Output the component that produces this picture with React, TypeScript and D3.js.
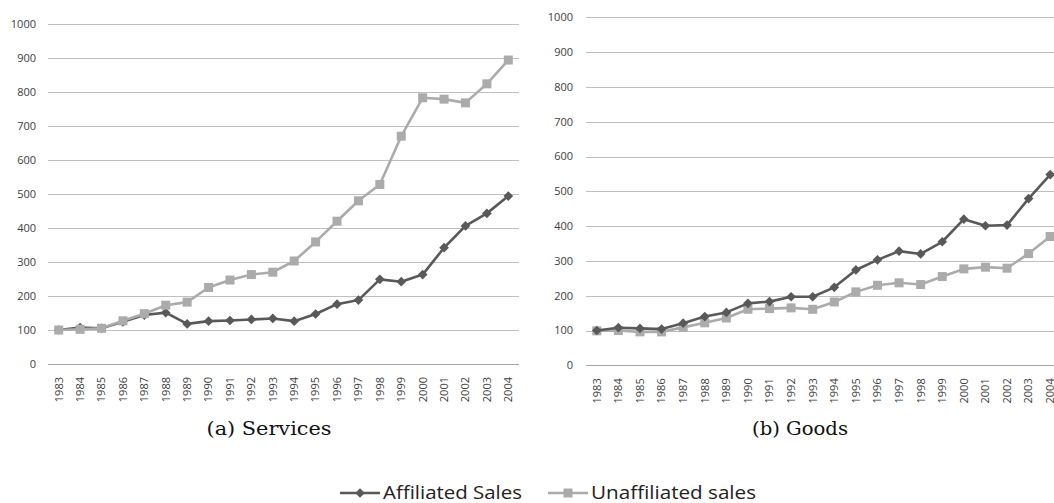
import React, { useRef, useEffect } from 'react';
import * as d3 from 'd3';

const years = [
  '1983', '1984', '1985', '1986', '1987', '1988', '1989', '1990', '1991', '1992', '1993',
  '1994', '1995', '1996', '1997', '1998', '1999', '2000', '2001', '2002', '2003', '2004',
];

const servicesAffiliated = [
  100, 107, 105, 124, 144, 151, 118, 126, 128, 131, 134,
  126, 147, 176, 188, 249, 242, 263, 342, 406, 443, 494,
];
const servicesUnaffiliated = [
  100, 102, 105, 127, 148, 173, 182, 225, 247, 263, 270,
  303, 359, 420, 480, 528, 670, 783, 779, 768, 824, 894,
];

const goodsAffiliated = [
  100, 108, 106, 104, 121, 140, 152, 178, 183, 197, 197,
  224, 274, 303, 328, 320, 355, 420, 401, 403, 479, 548,
];
const goodsUnaffiliated = [
  99, 100, 96, 96, 109, 122, 136, 161, 163, 165, 161,
  182, 211, 230, 237, 232, 255, 277, 282, 279, 321, 370,
];

const yTicks = [0, 100, 200, 300, 400, 500, 600, 700, 800, 900, 1000];

const captions = ['(a) Services', '(b) Goods'];
const seriesNames = ['Affiliated Sales', 'Unaffiliated sales'];

const DARK = '#595959';
const LIGHT = '#ababab';
const GRID = '#c0c0c0';
const TEXT = '#404040';
const SANS = '"Open Sans", "Noto Sans", sans-serif';

const W = 1054;
const H = 503;

const panels = [
  { x0: 48, x1: 519, yTop: 24, yBottom: 364, label: 36, caption: 269, capW: 125, aff: servicesAffiliated, unaff: servicesUnaffiliated },
  { x0: 586, x1: 1061, yTop: 17.3, yBottom: 365.3, label: 573, caption: 800, capW: 96, aff: goodsAffiliated, unaff: goodsUnaffiliated },
];

const App: React.FC = () => {
  const svgRef = useRef<SVGSVGElement | null>(null);

  useEffect(() => {
    if (!svgRef.current) return;
    const svg = d3.select(svgRef.current);
    svg.selectAll('*').remove();

    const diamond = d3.symbol().type(d3.symbolDiamond2).size(60);

    panels.forEach((p, i) => {
      const g = svg.append('g');

      const x = d3.scaleBand<string>().domain(years).range([p.x0, p.x1]);
      const cx = (d: string) => x(d)! + x.bandwidth() / 2;
      const y = d3.scaleLinear().domain([0, 1000]).range([p.yBottom, p.yTop]);

      // gridlines
      g.selectAll('.grid')
        .data(yTicks)
        .join('line')
        .attr('x1', p.x0)
        .attr('x2', p.x1)
        .attr('y1', d => Math.round(y(d)) + 0.5)
        .attr('y2', d => Math.round(y(d)) + 0.5)
        .attr('stroke', d => (d === 0 ? '#a6a6a6' : GRID))
        .attr('stroke-width', 1);

      // y labels
      g.selectAll('.ylab')
        .data(yTicks)
        .join('text')
        .attr('x', p.label)
        .attr('y', d => y(d))
        .attr('dy', '0.35em')
        .attr('text-anchor', 'end')
        .style('font-family', SANS)
        .style('font-size', '11px')
        .style('fill', TEXT)
        .text(d => d);

      // x labels, rotated
      g.selectAll('.xlab')
        .data(years)
        .join('text')
        .attr('transform', d => `translate(${cx(d)},${p.yBottom + 13}) rotate(-90)`)
        .attr('dy', '0.35em')
        .attr('text-anchor', 'end')
        .style('font-family', SANS)
        .style('font-size', '11px')
        .style('fill', TEXT)
        .text(d => d);

      const line = d3.line<number>()
        .x((_, j) => cx(years[j]))
        .y(d => y(d));

      // services draws light over dark, goods the other way round
      const order = i === 0 ? ['aff', 'unaff'] : ['unaff', 'aff'];
      order.forEach(key => {
        const vals = key === 'aff' ? p.aff : p.unaff;
        const color = key === 'aff' ? DARK : LIGHT;
        g.append('path')
          .datum(vals)
          .attr('d', line)
          .attr('fill', 'none')
          .attr('stroke', color)
          .attr('stroke-width', 2.6)
          .attr('stroke-linejoin', 'round');

        if (key === 'aff') {
          g.selectAll(`.m-aff-${i}`)
            .data(vals)
            .join('path')
            .attr('transform', (d, j) => `translate(${cx(years[j])},${y(d)})`)
            .attr('d', diamond)
            .attr('fill', DARK);
        } else {
          g.selectAll(`.m-unaff-${i}`)
            .data(vals)
            .join('rect')
            .attr('x', (_, j) => cx(years[j]) - 4.5)
            .attr('y', d => y(d) - 4.5)
            .attr('width', 9)
            .attr('height', 9)
            .attr('fill', LIGHT);
        }
      });

      // caption
      svg.append('text')
        .attr('x', p.caption - p.capW / 2)
        .attr('y', 435)
        .attr('textLength', p.capW)
        .attr('lengthAdjust', 'spacingAndGlyphs')
        .style('font-family', '"DejaVu Serif", serif')
        .style('font-size', '18px')
        .style('fill', '#111')
        .text(captions[i]);
    });

    // legend
    const legend = svg.append('g');
    const items = [
      { name: seriesNames[0], color: DARK, x: 340, marker: 'diamond', w: 139 },
      { name: seriesNames[1], color: LIGHT, x: 548, marker: 'square', w: 165 },
    ];
    items.forEach(it => {
      const ly = 493;
      legend.append('line')
        .attr('x1', it.x).attr('x2', it.x + 40)
        .attr('y1', ly).attr('y2', ly)
        .attr('stroke', it.color).attr('stroke-width', 2.6);
      if (it.marker === 'diamond') {
        legend.append('path')
          .attr('transform', `translate(${it.x + 20},${ly})`)
          .attr('d', diamond)
          .attr('fill', it.color);
      } else {
        legend.append('rect')
          .attr('x', it.x + 15.5).attr('y', ly - 4.5)
          .attr('width', 9).attr('height', 9)
          .attr('fill', it.color);
      }
      legend.append('text')
        .attr('x', it.x + 43)
        .attr('y', ly)
        .attr('dy', '0.35em')
        .attr('textLength', it.w)
        .attr('lengthAdjust', 'spacingAndGlyphs')
        .style('font-family', SANS)
        .style('font-size', '18px')
        .style('fill', '#222')
        .text(it.name);
    });
  }, []);

  return (
    <div style={{ position: 'absolute', left: 0, top: 0, width: W, height: H, background: '#fff', overflow: 'hidden' }}>
      <svg ref={svgRef} width={W} height={H} style={{ display: 'block' }}></svg>
    </div>
  );
};

export default App;
